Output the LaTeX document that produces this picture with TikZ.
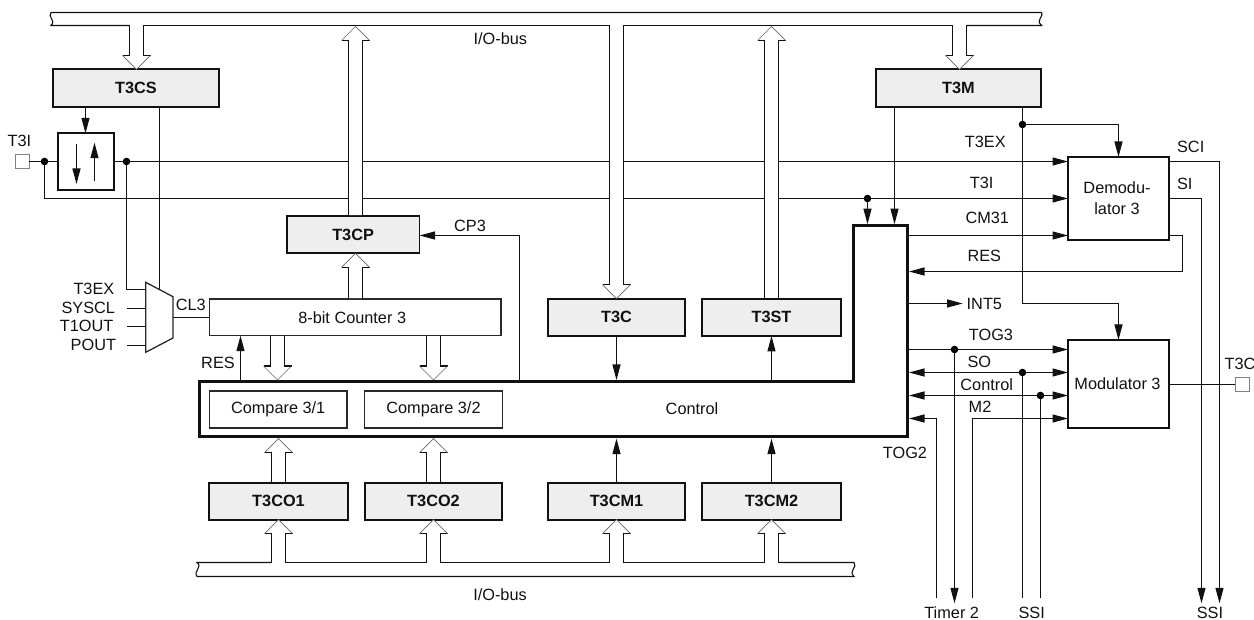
\documentclass[tikz,border=0pt]{standalone}
\usepackage{fontspec}
\setmainfont{Liberation Sans}
\usetikzlibrary{arrows.meta}
\definecolor{regfill}{HTML}{EEEEEE}
\definecolor{ink}{HTML}{111111}
\tikzset{
  sig/.style={line width=1.1pt,ink},
  arr/.style={sig,-{Triangle[length=15.5pt,width=8pt]}},
  rarr/.style={sig,{Triangle[length=15.5pt,width=8pt]}-},
  dbl/.style={sig,{Triangle[length=15.5pt,width=8pt]}-{Triangle[length=15.5pt,width=8pt]}},
  lbl/.style={inner sep=0pt,outer sep=0pt,text=ink,font=\fontsize{16.3}{21}\selectfont},
  regbox/.style={draw=ink,line width=1.8pt,fill=regfill,inner sep=0pt,outer sep=0pt,text=ink,font=\fontsize{16.3}{21}\selectfont\bfseries},
  plainbox/.style={draw=ink!90,line width=1.3pt,fill=white,inner sep=0pt,outer sep=0pt,text=ink,font=\fontsize{16.3}{21}\selectfont},
  blockbox/.style={draw=ink,line width=1.9pt,fill=white,inner sep=0pt,outer sep=0pt,text=ink,align=center,font=\fontsize{16.3}{21}\selectfont},
  padbox/.style={draw=black!50,line width=0.9pt,fill=white,inner sep=0pt,outer sep=0pt,minimum width=14pt,minimum height=14pt},
  dotnode/.style={circle,fill=black,inner sep=0pt,outer sep=0pt,minimum size=7.6pt},
  buswing/.style={line width=0.7pt,black!60},
}
% \busarrow{dir}{x}{tail}{tip}: dir = 1 points down the page, -1 points up
\newcommand{\busarrow}[4]{%
  \coordinate (ba-t) at (#3 -| #2,0);
  \coordinate (ba-h) at (#4 -| #2,0);
  \fill[white] ([xshift=-7pt,yshift=-0.06*#1*14pt]ba-t) -- ([xshift=-7pt,yshift=#1*14pt]ba-h) -- ([xshift=-14pt,yshift=#1*14pt]ba-h) -- (ba-h) -- ([xshift=14pt,yshift=#1*14pt]ba-h) -- ([xshift=7pt,yshift=#1*14pt]ba-h) -- ([xshift=7pt,yshift=-0.06*#1*14pt]ba-t) -- cycle;
  \draw[sig] ([xshift=-7pt]ba-t) -- ([xshift=-7pt,yshift=#1*14pt]ba-h) -- ([xshift=-14pt,yshift=#1*14pt]ba-h);
  \draw[sig] ([xshift=7pt]ba-t) -- ([xshift=7pt,yshift=#1*14pt]ba-h) -- ([xshift=14pt,yshift=#1*14pt]ba-h);
  \draw[buswing] ([xshift=-14pt,yshift=#1*14pt]ba-h) -- (ba-h) -- ([xshift=14pt,yshift=#1*14pt]ba-h);
}
\begin{document}
\begin{tikzpicture}[x=1pt,y=-1pt]
\useasboundingbox (0,0) rectangle (1254,620);

% reference levels
\coordinate (busT) at (0,25.5);
\coordinate (busTtip) at (0,26.5);
\coordinate (busB) at (0,562.5);
\coordinate (ctlR) at (909,0);
\coordinate (ctlU) at (0,380);
\coordinate (ctlD) at (0,438.6);
\coordinate (ctlN) at (0,224.2);
\coordinate (low) at (0,597.7);
\coordinate (lowtip) at (0,603.3);

% registers and blocks
\node[regbox,minimum width=165.4pt,minimum height=37.4pt] (t3cs) at (136,88) {T3CS};
\node[regbox,minimum width=132.8pt,minimum height=37.3pt] (t3cp) at (353.1,234.7) {T3CP};
\node[regbox,minimum width=137.3pt,minimum height=37.3pt] (t3c) at (616.5,317.3) {T3C};
\node[regbox,minimum width=138.4pt,minimum height=37.3pt] (t3st) at (771.5,317.3) {T3ST};
\node[regbox,minimum width=165.6pt,minimum height=37.4pt] (t3m) at (958.5,88) {T3M};
\node[regbox,minimum width=138.3pt,minimum height=37pt] (t3co1) at (278.5,501.2) {T3CO1};
\node[regbox,minimum width=137.6pt,minimum height=37pt] (t3co2) at (433.5,501.2) {T3CO2};
\node[regbox,minimum width=137.3pt,minimum height=37pt] (t3cm1) at (616.5,501.2) {T3CM1};
\node[regbox,minimum width=138.4pt,minimum height=37pt] (t3cm2) at (771.5,501.2) {T3CM2};
\node[plainbox,minimum width=291.7pt,minimum height=36.7pt] (cnt) at (355.2,317.3) {\hspace*{-6pt}8-bit Counter 3};
\node[blockbox,minimum width=55.4pt,minimum height=56.3pt] (sw) at (86,161.5) {};
\node[blockbox,minimum width=101pt,minimum height=83pt] (dem) at (1118.5,198.5) {\hspace*{-3pt}Demodu-\\\hspace*{-3pt}lator 3};
\node[blockbox,minimum width=101pt,minimum height=87.7pt] (mod) at (1118.5,383.8) {\hspace*{-2pt}Modulator 3};
\node[padbox] (padI) at (22,161.5) {};
\node[padbox] (padO) at (1242,384.5) {};

% control block outline and its contents
\draw[line width=3pt,draw=ink,line join=miter] (199.5,381.5) -- (853.5,381.5) -- (853.5,225.7) -- (907.6,225.7) -- (907.6,437) -- (199.5,437) -- cycle;
\node[plainbox,minimum width=137.7pt,minimum height=37pt] (cmp1) at (278.2,409.5) {Compare 3/1};
\node[plainbox,minimum width=137.6pt,minimum height=37pt] (cmp2) at (433.5,409.5) {Compare 3/2};
\node[lbl] (ctl) at (692,409) {Control};

% junction dots
\node[dotnode] (d1) at (44.5,161.5) {};
\node[dotnode] (d2) at (126.5,161.5) {};
\node[dotnode] (d3) at (867.5,198.5) {};
\node[dotnode] (d4) at (1022.5,124.5) {};
\node[dotnode] (d5) at (954.5,349.5) {};
\node[dotnode] (d6) at (1022.5,372.5) {};
\node[dotnode] (d7) at (1040.5,395.5) {};

% multiplexer
\coordinate (muxA) at (145.7,282.3);
\coordinate (muxB) at (173,296.7);
\coordinate (muxC) at (173,338);
\coordinate (muxD) at (145.7,352.3);
\coordinate (muxT) at (159.5,289.5);
\coordinate (inL) at (126.5,0);
\draw[sig,draw=ink!90,line width=1.3pt,fill=white,line join=miter] (muxA) -- (muxB) -- (muxC) -- (muxD) -- cycle;

% left signal lines
\draw[sig] (padI.east) -- (sw.west);
\draw[arr] (sw.east) -- (sw.east -| dem.west);
\draw[arr] (d1) |- (dem.west);
\draw[sig] (d2) |- (muxA |- 0,289.5);
\draw[sig] (inL |- 0,308.5) -- (muxA |- 0,308.5);
\draw[sig] (inL |- 0,326.5) -- (muxA |- 0,326.5);
\draw[sig] (inL |- 0,345.5) -- (muxA |- 0,345.5);
\draw[sig] (t3cs.south -| muxT) -- (muxT);
\draw[arr] (t3cs.south -| 85.5,0) -- (sw.north -| 85.5,0);
\draw[sig] (muxB |- 0,317.5) -- (cnt.west |- 0,317.5);
\draw[arr] (240.5,0 |- ctlU) -- (240.5,0 |- cnt.south);
\draw[arr] (76.5,144) -- (76.5,184);
\draw[arr] (94.5,181) -- (94.5,142.7);

% CP3 and register connections to control
\draw[arr] (519.5,0 |- ctlU) |- (t3cp.east |- 0,235.5);
\draw[arr] (t3c.south) -- (t3c.south |- ctlU);
\draw[arr] (t3st.south |- ctlU) -- (t3st.south);
\draw[arr] (t3cm1.north) -- (t3cm1.north |- ctlD);
\draw[arr] (t3cm2.north) -- (t3cm2.north |- ctlD);

% right signal lines
\draw[arr] (d3) -- (d3 |- ctlN);
\draw[arr] (t3m.south -| 894.5,0) -- (894.5,0 |- ctlN);
\coordinate (bend) at (1022.5,303.5);
\draw[arr] (t3m.south -| d4) -- (bend) -| (mod.north);
\draw[arr] (d4) -| (dem.north);
\draw[arr] (ctlR |- 0,235.5) -- (dem.west |- 0,235.5);
\coordinate (resx) at (1182.5,271.5);
\draw[arr] (dem.east |- 0,235.5) -| (resx) -- (ctlR |- resx);
\coordinate (sci) at (1219.5,603.3);
\coordinate (si) at (1201.5,603.3);
\draw[arr] (dem.east |- 0,161.5) -| (sci);
\draw[arr] (dem.east) -| (si);
\node[lbl,anchor=west] (int5) at (966.7,303.5) {INT5};
\draw[arr] (ctlR |- int5) -- ([xshift=-4pt]int5.west);
\draw[arr] (ctlR |- d5) -- (mod.west |- d5);
\draw[arr] (d5) -- (d5 |- lowtip);
\draw[dbl] (ctlR |- d6) -- (mod.west |- d6);
\draw[sig] (d6) -- (d6 |- low);
\draw[dbl] (ctlR |- d7) -- (mod.west |- d7);
\draw[sig] (d7) -- (d7 |- low);
\coordinate (m2) at (972.5,418.5);
\draw[arr] (m2 |- low) |- (mod.west |- m2);
\coordinate (tg2) at (936.5,418.5);
\draw[arr] (tg2 |- low) |- (ctlR |- m2);
\draw[sig] (mod.east |- padO) -- (padO.west);

% top bus
\draw[sig] (1041.7,12.5) -- (51,12.5) .. controls (47,17) and (56.5,20) .. (51,25.5) -- (129.5,25.5);
\draw[sig] (143.5,25.5) -- (609.5,25.5);
\draw[sig] (623.5,25.5) -- (952.5,25.5);
\draw[sig] (966.5,25.5) -- (1041.7,25.5) .. controls (1035,20) and (1044,17) .. (1041.7,12.5);
% bottom bus
\draw[sig] (271.5,562.5) -- (197,562.5) .. controls (203,567) and (193,571) .. (197,576.5) -- (854,576.5) .. controls (848,571) and (858,567) .. (854,562.5) -- (778.5,562.5);
\draw[sig] (285.5,562.5) -- (426.5,562.5);
\draw[sig] (440.5,562.5) -- (609.5,562.5);
\draw[sig] (623.5,562.5) -- (764.5,562.5);

% bus arrows
\busarrow{1}{136.5}{busT}{t3cs.north}
\busarrow{1}{959.5}{busT}{t3m.north}
\busarrow{1}{616.5}{busT}{t3c.north}
\busarrow{-1}{355.5}{t3cp.north}{busTtip}
\busarrow{-1}{771.5}{t3st.north}{busTtip}
\busarrow{-1}{355.5}{cnt.north}{t3cp.south}
\busarrow{1}{277.5}{cnt.south}{ctlU}
\busarrow{1}{433.5}{cnt.south}{ctlU}
\busarrow{-1}{278.5}{t3co1.north}{ctlD}
\busarrow{-1}{433.5}{t3co2.north}{ctlD}
\busarrow{-1}{278.5}{busB}{t3co1.south}
\busarrow{-1}{433.5}{busB}{t3co2.south}
\busarrow{-1}{616.5}{busB}{t3cm1.south}
\busarrow{-1}{771.5}{busB}{t3cm2.south}

% labels
\node[lbl] (lbusT) at (500.3,38.7) {I/O-bus};
\node[lbl] (lbusB) at (500,594.3) {I/O-bus};
\node[lbl] (lT3I) at (19.5,141.3) {T3I};
\node[lbl,anchor=east] (lm1) at (114.3,289.3) {T3EX};
\node[lbl,anchor=east] (lm2) at (115,308.3) {SYSCL};
\node[lbl,anchor=east] (lm3) at (113.3,326.3) {T1OUT};
\node[lbl,anchor=east] (lm4) at (116,345) {POUT};
\node[lbl] (lCL3) at (190.7,304.7) {CL3};
\node[lbl] (lRES) at (218,363) {RES};
\node[lbl] (lCP3) at (470,225.7) {CP3};
\node[lbl] (rT3EX) at (985.3,142.3) {T3EX};
\node[lbl] (rT3I) at (981.7,182.7) {T3I};
\node[lbl] (rCM31) at (987.3,218) {CM31};
\node[lbl] (rRES) at (984.3,255.7) {RES};
\node[lbl] (rSCI) at (1190.7,147.3) {SCI};
\node[lbl] (rSI) at (1184.7,184) {SI};
\node[lbl] (rTOG3) at (991,334.7) {TOG3};
\node[lbl] (rSO) at (979.3,362) {SO};
\node[lbl] (rCtl) at (986.7,384.3) {Control};
\node[lbl] (rM2) at (980,407.3) {M2};
\node[lbl] (rTOG2) at (905,453.3) {TOG2};
\node[lbl,anchor=west] (rT3C) at (1224.6,363.5) {T3C};
\node[lbl] (bTimer) at (951.7,612.5) {Timer 2};
\node[lbl] (bSSI1) at (1031.7,612.5) {SSI};
\node[lbl] (bSSI2) at (1210,612.5) {SSI};
\end{tikzpicture}
\end{document}
